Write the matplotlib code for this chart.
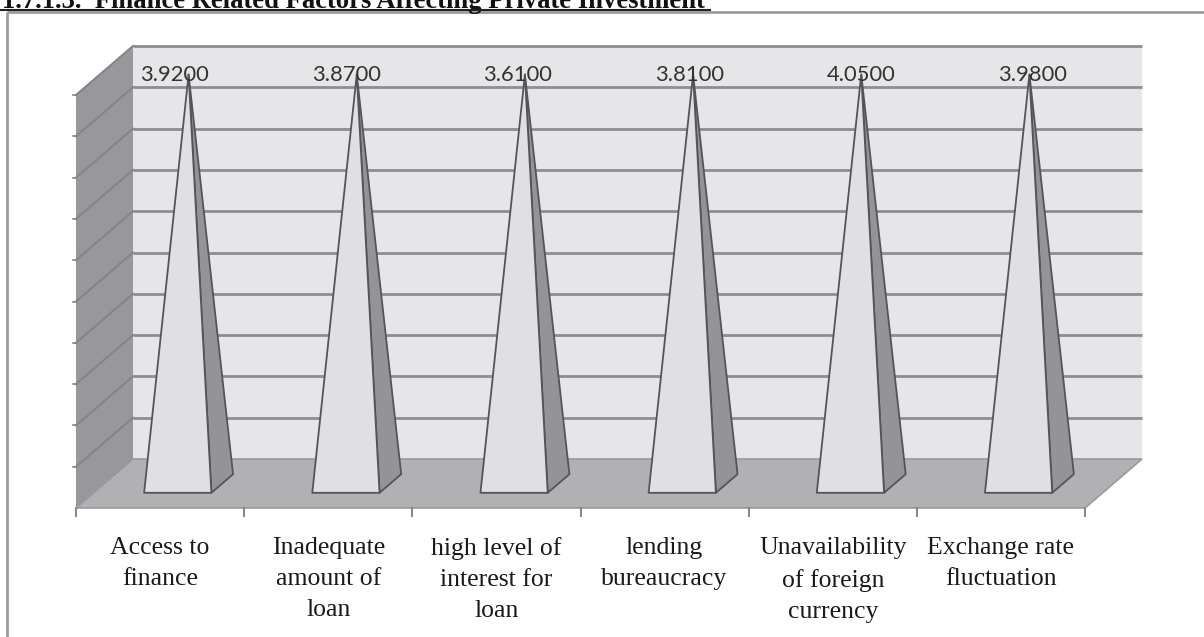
import matplotlib
matplotlib.use("Agg")
import matplotlib.pyplot as plt
from matplotlib.patches import Polygon
import numpy as np

# ---- data ----
categories = ["Access to\nfinance", "Inadequate\namount of\nloan", "high level of\ninterest for\nloan",
              "lending\nbureaucracy", "Unavailability\nof foreign\ncurrency", "Exchange rate\nfluctuation"]
values = [3.92, 3.87, 3.61, 3.81, 4.05, 3.98]
value_labels = ["3.9200", "3.8700", "3.6100", "3.8100", "4.0500", "3.9800"]
axis_min = 0.0
axis_max = 3.6          # value axis is capped; all bars reach the cap
n_grid = 10
title = "1.7.1.3.  Finance Related Factors Affecting Private Investment"

# ---- figure in pixel space ----
W, H = 1204, 637
fig = plt.figure(figsize=(W / 100, H / 100), dpi=100)
ax = fig.add_axes([0, 0, 1, 1])
ax.set_xlim(0, W)
ax.set_ylim(H, 0)
ax.axis("off")

# 3D-box projection parameters (pixels)
ox, oy = 76.0, 508.0            # front-left-bottom corner
cat_w = (1085.0 - 76.0) / len(categories)
ddx, ddy = 57.0, -49.0          # depth vector
wall_h = 413.0


def proj(xc, val, d):
    """xc: category coordinate (0..n), val: value, d: depth 0..1"""
    frac = (min(max(val, axis_min), axis_max) - axis_min) / (axis_max - axis_min)
    return (ox + xc * cat_w + d * ddx, oy + d * ddy - frac * wall_h)


n = len(categories)
grid_vals = np.linspace(axis_min, axis_max, n_grid + 1)

# back wall
bw = [proj(0, axis_min, 1), proj(n, axis_min, 1), proj(n, axis_max, 1), proj(0, axis_max, 1)]
ax.add_patch(Polygon(bw, closed=True, facecolor="#e6e6e8", edgecolor="none", zorder=1))
# side wall
sw = [proj(0, axis_min, 0), proj(0, axis_min, 1), proj(0, axis_max, 1), proj(0, axis_max, 0)]
ax.add_patch(Polygon(sw, closed=True, facecolor="#98989c", edgecolor="none", zorder=1))
# gridlines
for gv in grid_vals[1:]:
    p0 = proj(0, gv, 0); p1 = proj(0, gv, 1); p2 = proj(n, gv, 1)
    ax.plot([p1[0], p2[0]], [p1[1], p2[1]], color="#8e8e90", lw=2.0, zorder=2, solid_capstyle="butt")
    ax.plot([p0[0], p1[0]], [p0[1], p1[1]], color="#858588", lw=1.5, zorder=2)
    ax.plot([p0[0] - 3, p0[0]], [p0[1], p0[1]], color="#858588", lw=1.2, zorder=2)
# floor
fl = [proj(0, axis_min, 0), proj(n, axis_min, 0), proj(n, axis_min, 1), proj(0, axis_min, 1)]
ax.add_patch(Polygon(fl, closed=True, facecolor="#b1b1b4", edgecolor="#9a9a9d", lw=1.2, zorder=3))

# category ticks
for k in range(n + 1):
    x, y = proj(k, axis_min, 0)
    ax.plot([x, x], [y, y + 8], color="#8a8a8a", lw=1.5, zorder=3)

# pyramids
pw = 0.40            # width fraction of category
d0, d1 = 0.31, 0.69  # depth extent
for i, v in enumerate(values):
    xl = i + 0.5 - pw / 2
    xr = i + 0.5 + pw / 2
    fl_ = proj(xl, axis_min, d0)
    fr_ = proj(xr, axis_min, d0)
    br_ = proj(xr, axis_min, d1)
    apex = proj(i + 0.5, v, 0.5)
    apex = (apex[0], apex[1] + 4)
    ax.add_patch(Polygon([fr_, br_, apex], closed=True, facecolor="#949498",
                         edgecolor="#555558", lw=1.3, zorder=4, joinstyle="round"))
    ax.add_patch(Polygon([fl_, fr_, apex], closed=True, facecolor="#e0e0e2",
                         edgecolor="#555558", lw=1.3, zorder=5, joinstyle="round"))
    ax.text(apex[0] + (i - 4) * 3.5, 81, value_labels[i], ha="center", va="baseline",
            fontsize=15.8, family="Lato", color="#333333", zorder=6)

# category labels
for i, c in enumerate(categories):
    x = ox + (i + 0.5) * cat_w
    ax.text(x, 537, c, ha="center", va="top", fontsize=18.5, family="Liberation Serif",
            color="#1a1a1a", linespacing=1.53, zorder=6)

# frame
ax.plot([7, W], [11.5, 11.5], color="#9c9c9c", lw=2.0, zorder=7, solid_capstyle="butt")
ax.plot([7, 7], [11.5, H], color="#9c9c9c", lw=2.0, zorder=7, solid_capstyle="butt")

# title (partly cut by the top edge, underlined)
ax.text(2, 8, title, ha="left", va="baseline", fontsize=19.2, family="Liberation Serif",
        fontweight="bold", color="#111111", zorder=8, clip_on=False)
ax.plot([0, 710], [10, 10], color="#222222", lw=1.5, zorder=8)

fig.savefig("out.png", dpi=100)
